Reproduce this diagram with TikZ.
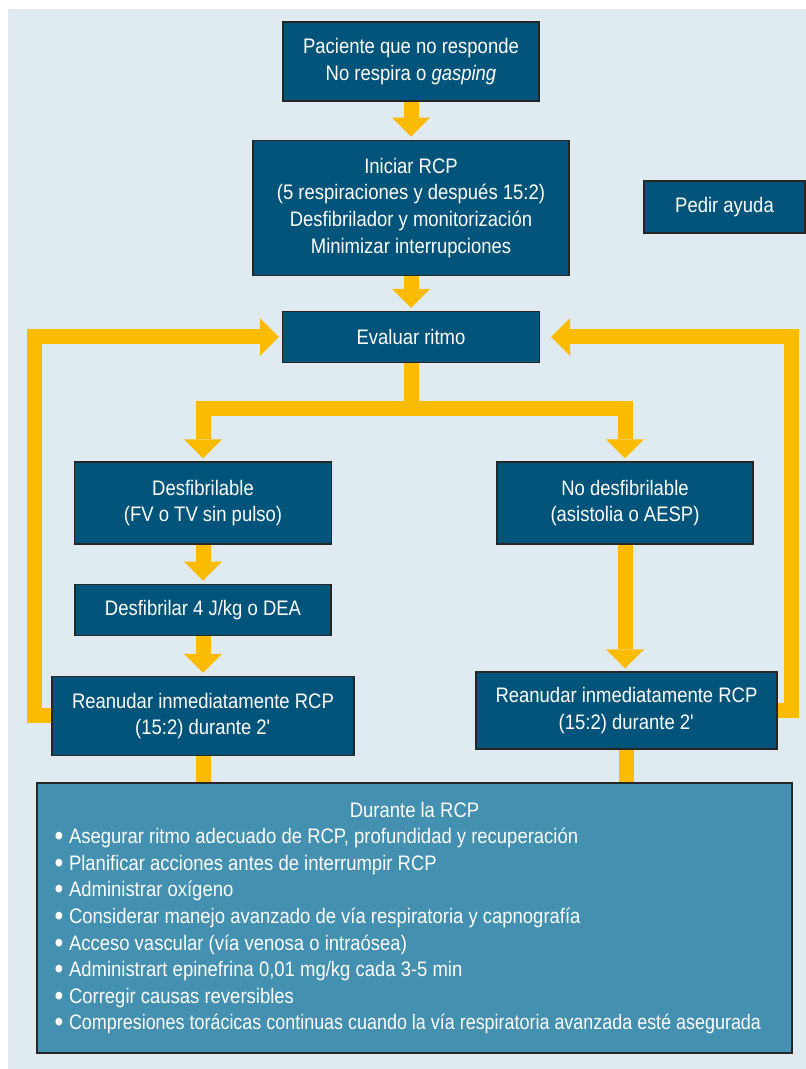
\documentclass[tikz,border=0pt]{standalone}
\usepackage{fontspec}
\setmainfont{Liberation Sans}[FakeStretch=0.88]
\usepackage{graphicx}
\usetikzlibrary{arrows.meta,positioning}
\definecolor{boxblue}{HTML}{02547A}
\definecolor{panelblue}{HTML}{4390B0}
\definecolor{bgblue}{HTML}{DFEAF1}
\definecolor{flowyellow}{HTML}{FBBB00}
\newcommand{\punto}{\raisebox{-2pt}{\scalebox{1.35}{\textbullet}}\hspace{5.8pt}}

\begin{document}
\begin{tikzpicture}[
  x=1pt, y=-1pt,
  box/.style={rectangle, draw=black!85, line width=1.2pt, fill=boxblue, text=white, align=center, inner sep=0pt, font=\fontsize{21}{26.6}\selectfont},
  panel/.style={box, fill=panelblue, align=flush left, text width=720pt},
  flow/.style={draw=flowyellow, line width=15pt, line join=miter, -{Triangle[width=38pt,length=19pt,line width=0pt]}, shorten >=3pt},
  link/.style={draw=flowyellow, line width=15pt}
]
\useasboundingbox (0,0) rectangle (806,1069);
\fill[white] (0,0) rectangle (806,1069);
\fill[bgblue] (8,9) rectangle (806,1069);

\node[box, minimum width=256pt, minimum height=79pt] (paciente) at (411,61.5) {Paciente que no responde\\No respira o \textit{gasping}};
\node[box, below=38pt of paciente, minimum width=316pt, minimum height=135pt] (rcp) {Iniciar RCP\\(5 respiraciones y después 15:2)\\Desfibrilador y monitorización\\Minimizar interrupciones};
\node[box, minimum width=161pt, minimum height=52pt] (ayuda) at (724.5,207) {Pedir ayuda};
\node[box, below=35pt of rcp, minimum width=257pt, minimum height=51pt] (ritmo) {Evaluar ritmo};
\node[box, minimum width=257pt, minimum height=82pt] (desf) at (203,503) {Desfibrilable\\(FV o TV sin pulso)};
\node[box, minimum width=256pt, minimum height=82pt] (nodesf) at (625,503) {No desfibrilable\\(asistolia o AESP)};
\node[box, below=39pt of desf, minimum width=256pt, minimum height=51pt] (descarga) {Desfibrilar 4 J/kg o DEA};
\node[box, below=40pt of descarga, minimum width=302pt, minimum height=79pt] (reanizq) {Reanudar inmediatamente RCP\\(15:2) durante 2\textquotesingle};
\node[box, minimum width=301pt, minimum height=77pt] (reander) at (626.5,710.5) {Reanudar inmediatamente RCP\\(15:2) durante 2\textquotesingle};
\node[panel, minimum width=755pt, minimum height=270pt] (durante) at (414.5,918) {\makebox[\linewidth]{Durante la RCP}\\
  \punto Asegurar ritmo adecuado de RCP, profundidad y recuperación\\
  \punto Planificar acciones antes de interrumpir RCP\\
  \punto Administrar oxígeno\\
  \punto Considerar manejo avanzado de vía respiratoria y capnografía\\
  \punto Acceso vascular (vía venosa o intraósea)\\
  \punto Administrart epinefrina 0,01 mg/kg cada 3-5 min\\
  \punto Corregir causas reversibles\\
  \punto\resizebox{692pt}{\height}{Compresiones torácicas continuas cuando la vía respiratoria avanzada esté asegurada}};

% main path
\draw[flow] (paciente) -- (rcp);
\draw[flow] (rcp) -- (ritmo);
\draw[flow] (ritmo.south) -- ++(0,45) -| (desf.north);
\draw[flow] (ritmo.south) -- ++(0,45) -| (nodesf.north);
\draw[flow] (desf) -- (descarga);
\draw[flow] (descarga) -- (reanizq);
\draw[flow] (nodesf.south) -- (nodesf.south |- reander.north);
% back to rhythm check
\draw[flow] (reanizq.west) -- ++(-17,0) |- (ritmo.west);
\draw[flow, shorten >=11pt] (reander.east) -- ++(14,0) |- (ritmo.east);
\draw[link] (reanizq.south) -- (reanizq.south |- durante.north);
\draw[link] (reander.south) -- (reander.south |- durante.north);
\end{tikzpicture}
\end{document}
